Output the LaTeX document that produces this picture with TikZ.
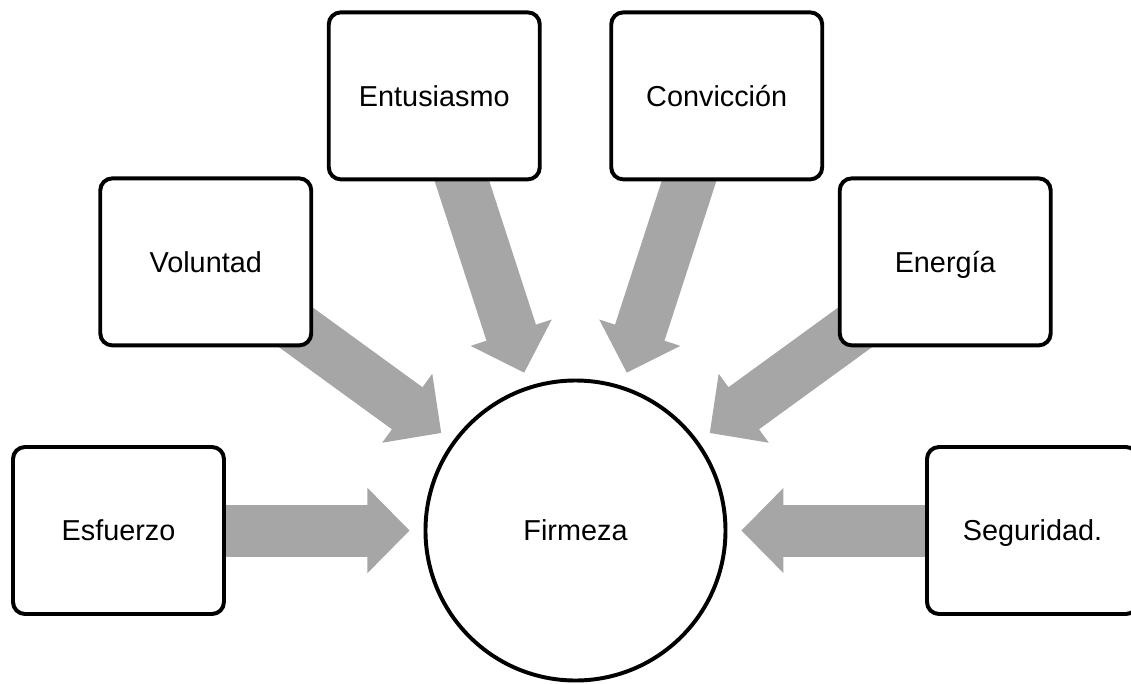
\documentclass[tikz,border=0pt]{standalone}
\usepackage{fontspec}
\setmainfont{Liberation Sans}
\usetikzlibrary{calc,arrows.meta,backgrounds}
\definecolor{arrowgray}{RGB}{166,166,166}
\tikzset{
	idea/.style={draw, line width=2.8pt, rounded corners=0.3cm, fill=white,
		minimum width=5.275cm, minimum height=4.175cm,
		text height=14.7pt, text depth=0pt,
		font=\fontsize{20.5}{24}\selectfont},
	center/.style={draw, circle, line width=2.8pt, fill=white,
		minimum size=7.5cm, text height=14.7pt, text depth=0pt,
		font=\fontsize{20.5}{24}\selectfont},
	fatarrow/.style={draw=arrowgray, line width=1.3cm,
		-{Triangle[width=2.125cm,length=1.05cm,line width=1pt,color=arrowgray]}}
}
\begin{document}
\begin{tikzpicture}
				\useasboundingbox (-14.3875,-3.8125) rectangle (13.8875,13.2625);
				
				\node [center] (F) at (0,0) {Firmeza};
				
				\node [idea] (Es) at (180:11.425) {Esfuerzo};
				\node [idea] (Vo) at (144:11.425) {Voluntad};
				\node [idea] (En) at (108:11.425) {Entusiasmo};
				\node [idea] (Co) at (72:11.425) {Convicción};
				\node [idea] (Eg) at (36:11.425) {Energía};
				\node [idea] (Se) at (0:11.425) {Seguridad.};
				
				\begin{pgfonlayer}{background}
				\foreach \b in {Es,Vo,En,Co,Eg,Se}
					\draw [fatarrow] ($(F)!9.6cm!(\b)$) -- ($(F)!4.15cm!(\b)$);
				\end{pgfonlayer}
			\end{tikzpicture}
\end{document}
